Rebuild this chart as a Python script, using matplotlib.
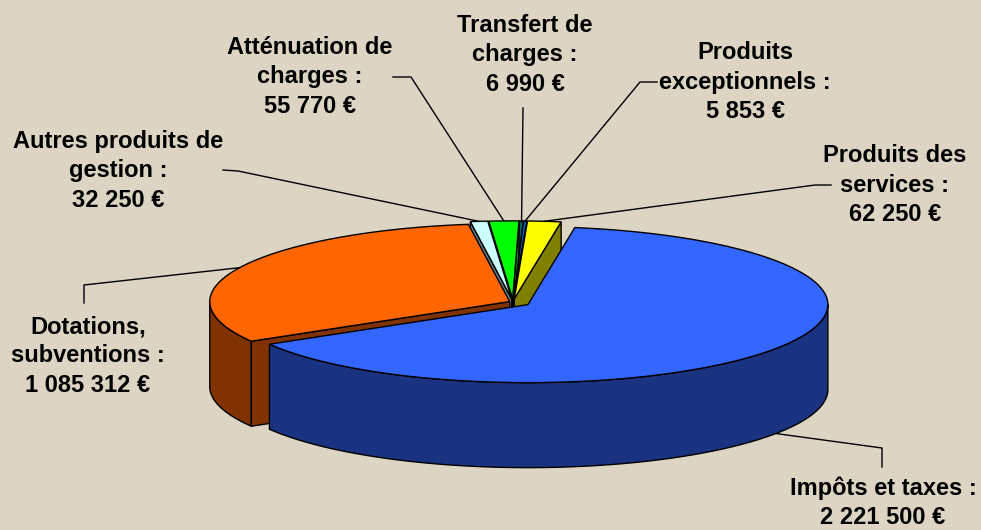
import numpy as np
import matplotlib.pyplot as plt
from matplotlib.patches import Polygon

# donnees du graphique (recettes)
labels = ['Impôts et taxes', 'Dotations,\nsubventions', 'Autres produits de\ngestion',
          'Atténuation de\ncharges', 'Transfert de\ncharges', 'Produits\nexceptionnels',
          'Produits des\nservices']
values = [2221500, 1085312, 32250, 55770, 6990, 5853, 62250]
colors = ['#3366FF', '#FF6600', '#CCFFFF', '#00FF00', '#006666', '#0066CC', '#FFFF00']
explode = [0.06, 0.012, 0.04, 0.04, 0.04, 0.04, 0.04]

# position des etiquettes (centre du texte) et depart des traits de rappel
label_xy = [(883, 503), (88, 356), (118, 171), (310, 77), (525, 55), (745, 82), (895, 185)]
leader_start = [[(882, 467), (882, 448)],
                [(84, 303), (84, 285)],
                [(223, 170), (238, 171)],
                [(393, 77), (411, 77)],
                [(523, 108)],
                [(657, 82), (640, 82)],
                [(831, 185), (815, 185)]]

cx, cy = 513, 302
rx, ry = 300, 78
depth = 85
start = 81.0


def fmt(v):
    return f"{v:,}".replace(',', ' ') + ' €'


def shade(c, k=0.5):
    r, g, b = plt.matplotlib.colors.to_rgb(c)
    return (r * k, g * k, b * k)


def rim(t, ox, oy, dz=0):
    t = np.radians(t)
    return np.column_stack([cx + ox + rx * np.cos(t), cy + oy - ry * np.sin(t) + dz])


fig = plt.figure(figsize=(9.81, 5.30), dpi=100)
fig.patch.set_facecolor('#DCD5C4')
ax = fig.add_axes([0, 0, 1, 1])
ax.set_xlim(0, 981)
ax.set_ylim(530, 0)
ax.axis('off')

total = sum(values)
slices = []
a = start
for i, v in enumerate(values):
    span = 360.0 * v / total
    t0, t1 = a - span, a
    b = np.radians((t0 + t1) / 2)
    ox = explode[i] * rx * np.cos(b)
    oy = -explode[i] * ry * np.sin(b)
    slices.append((i, t0, t1, ox, oy, np.sin(b)))
    a -= span

# du fond vers l'avant
for i, t0, t1, ox, oy, sb in sorted(slices, key=lambda s: -s[5]):
    top_c = colors[i]
    side_c = shade(colors[i])
    c = np.array([cx + ox, cy + oy])
    # paroi exterieure (partie avant)
    for k in (-360, 0, 360):
        s0, s1 = max(t0, 180 + k), min(t1, 360 + k)
        if s1 > s0:
            tt = np.linspace(s0, s1, 80)
            pts = np.vstack([rim(tt, ox, oy), rim(tt[::-1], ox, oy, depth)])
            ax.add_patch(Polygon(pts, closed=True, fc=side_c, ec='black', lw=1))
    # faces de coupe visibles
    for t, vis in ((t0, np.cos(np.radians(t0)) > 0), (t1, np.cos(np.radians(t1)) < 0)):
        if vis:
            r = rim(np.array([t]), ox, oy)[0]
            pts = [c, r, r + [0, depth], c + [0, depth]]
            ax.add_patch(Polygon(pts, closed=True, fc=side_c, ec='black', lw=1))
    # dessus
    tt = np.linspace(t0, t1, max(int((t1 - t0) * 2), 4))
    pts = np.vstack([c, rim(tt, ox, oy)])
    ax.add_patch(Polygon(pts, closed=True, fc=top_c, ec='black', lw=1))

# etiquettes et traits de rappel
for i, t0, t1, ox, oy, sb in slices:
    bm = (t0 + t1) / 2
    end = rim(np.array([bm]), ox, oy, depth if sb < 0 else 0)[0]
    line = np.array(leader_start[i] + [tuple(end)])
    ax.plot(line[:, 0], line[:, 1], color='black', lw=1, zorder=5)
    ax.text(label_xy[i][0], label_xy[i][1], labels[i] + ' :\n' + fmt(values[i]),
            ha='center', va='center', fontsize=17, fontweight='bold',
            family='Liberation Sans', linespacing=1.36, zorder=6)

fig.savefig('out.png', dpi=100, facecolor=fig.get_facecolor())
